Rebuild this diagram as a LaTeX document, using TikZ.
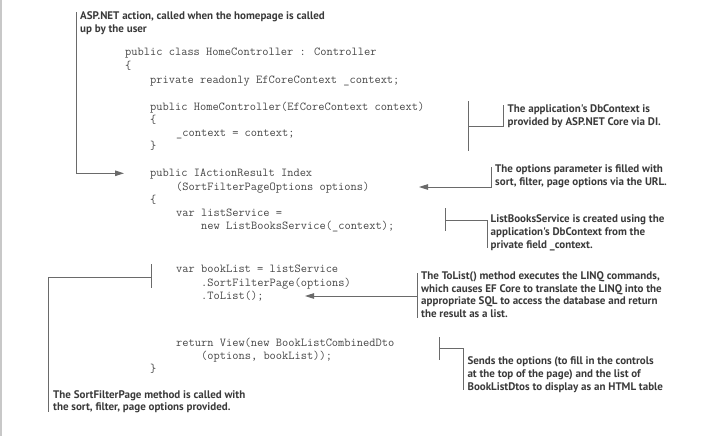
\documentclass[tikz,border=0pt]{standalone}
\usepackage{fontspec}
\newfontfamily\notefont{PT Sans}
\usetikzlibrary{arrows.meta}
\definecolor{codegray}{HTML}{474747}
\definecolor{notegray}{HTML}{3A3A3A}
\definecolor{linegray}{HTML}{6A6A6A}
\definecolor{edgegray}{HTML}{C8C8C8}
\begin{document}
\begin{tikzpicture}[x=1pt,y=-1pt,>={Triangle[length=9pt,width=5.5pt]},
  code/.style={anchor=base west,inner sep=0,text=codegray,font=\ttfamily\fontsize{12.1}{13}\selectfont},
  note/.style={anchor=base west,inner sep=0,align=left,text=notegray,font=\notefont\bfseries\fontsize{11}{12.7}\selectfont},
  lead/.style={draw=linegray,line width=1pt}]
\useasboundingbox (0,0) rectangle (709,436);
\draw[edgegray,line width=1.5pt](0.75,0)--(0.75,436);
% code of the controller
\node[code](cls) at (125,55.7){public class HomeController : Controller};
\node[code](clsopen) at (125,70){\{};
\node[code](field) at (150,83){private readonly EfCoreContext \_context;};
\node[code](ctor) at (150,110.3){public HomeController(EfCoreContext context)};
\node[code](ctoropen) at (150,123.5){\{};
\node[code](assign) at (176,136.3){\_context = context;};
\node[code](ctorclose) at (150,149.7){\}};
\node[code](idx) at (150,176){public IActionResult Index};
\node[code](idxarg) at (176,190){(SortFilterPageOptions options)};
\node[code](idxopen) at (150,203.5){\{};
\node[code](svc) at (176,216){var listService =};
\node[code](svcnew) at (201,229.7){new ListBooksService(\_context);};
\node[code](books) at (176,272){var bookList = listService};
\node[code](sfp) at (201,286.3){.SortFilterPage(options)};
\node[code](tolist) at (201,299){.ToList();};
\node[code](ret) at (176,346.3){return View(new BookListCombinedDto};
\node[code](retarg) at (201,359){(options, bookList));};
\node[code](idxclose) at (150,372.3){\}};
% the notes (placed by the baseline of their last line)
\node[note](action) at (80,32.6){ASP.NET action, called when the homepage is called\\up by the user};
\node[note](dbctx) at (507.5,125){The application's DbContext is\\provided by ASP.NET Core via DI.};
\node[note](opts) at (495,185.3){The options parameter is filled with\\sort, filter, page options via the URL.};
\node[note](lbs) at (490.5,248.2){ListBooksService is created using the\\application's DbContext from the\\private field \_context.};
\node[note](sort) at (53,410.7){The SortFilterPage method is called with\\the sort, filter, page options provided.};
\node[note](linq) at (421,317.5){The ToList() method executes the LINQ commands,\\which causes EF Core to translate the LINQ into the\\appropriate SQL to access the database and return\\the result as a list.};
\node[note](view) at (467.3,390){Sends the options (to fill in the controls\\at the top of the page) and the list of\\BookListDtos to display as an HTML table};
% leader lines
\coordinate(actiontop) at (76,12.5);
\coordinate(actiontip) at (124,173.3);
\draw[lead,->](actiontop)|-(actiontip);
\coordinate(dbtop) at (468,101);
\coordinate(dbbot) at (468,151);
\coordinate(dbmid) at (468,126);
\coordinate(dbnote) at (503,105);
\draw[lead](dbtop)--(dbbot);
\draw[lead](dbmid)-|(dbnote);
\coordinate(optstop) at (491,167);
\coordinate(optstip) at (419,187);
\draw[lead,->](optstop)|-(optstip);
\coordinate(lbstop) at (445,208);
\coordinate(lbsbot) at (445,231);
\coordinate(lbsmid) at (445,220);
\coordinate(lbsnote) at (487,248);
\draw[lead](lbstop)--(lbsbot);
\draw[lead](lbsmid)-|(lbsnote);
\coordinate(sfptop) at (151,264);
\coordinate(sfpbot) at (151,288);
\coordinate(sfpmid) at (151,277);
\coordinate(sortnote) at (48,412);
\draw[lead](sfptop)--(sfpbot);
\draw[lead](sfpmid)-|(sortnote);
\coordinate(linqtop) at (417,273);
\coordinate(linqbot) at (417,318);
\coordinate(linqmid) at (417,296);
\coordinate(linqtip) at (305,296);
\draw[lead](linqtop)--(linqbot);
\draw[lead,->](linqmid)--(linqtip);
\coordinate(rettop) at (439,337);
\coordinate(retbot) at (439,360);
\coordinate(retmid) at (439,348);
\coordinate(viewnote) at (463,390);
\draw[lead](rettop)--(retbot);
\draw[lead](retmid)-|(viewnote);
\end{tikzpicture}
\end{document}
